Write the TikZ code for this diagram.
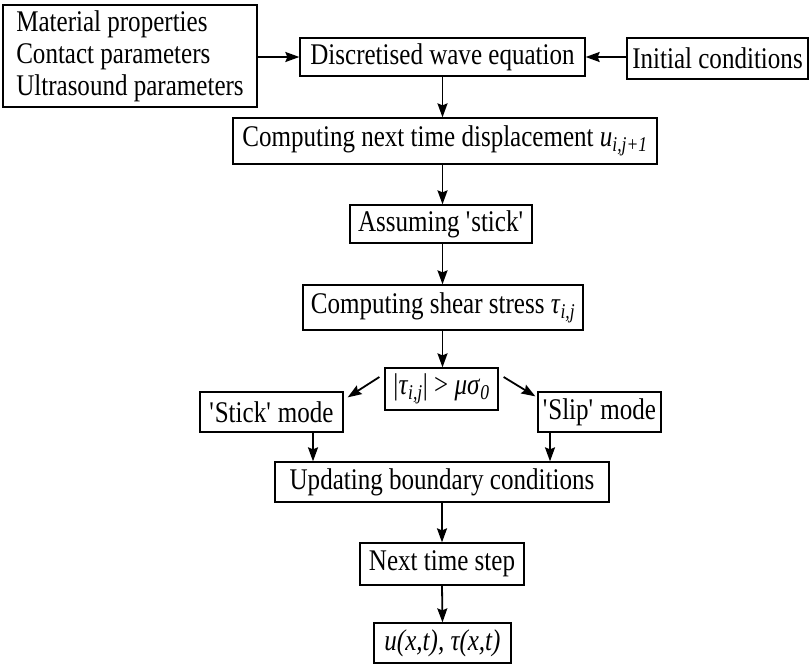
\documentclass[tikz,border=0pt]{standalone}
\usepackage{fontspec}
\setmainfont{Liberation Serif}[FakeStretch=0.835]
\usetikzlibrary{arrows.meta,positioning}
\tikzstyle{stepNode} = [rectangle, draw=black, line width=1.3pt, inner sep=0pt, text centered, font=\fontsize{30}{32}\selectfont]
\tikzstyle{arrow} = [line width=1.8pt,-{Stealth[length=14pt,width=10pt,inset=2pt]},draw=black]
\newcommand{\sub}[1]{\textsubscript{\textit{#1}}}

\begin{document}
\begin{tikzpicture}[x=1pt,y=-1pt]
        \useasboundingbox (0,0) rectangle (810,665);
        \node (params) [stepNode, minimum width=254pt, minimum height=102pt, align=left] at (130,56) {Material properties\\Contact parameters\\Ultrasound parameters};
        \node (wave) [stepNode, minimum width=285pt, minimum height=38pt] at (442.5,57) {Discretised wave equation};
        \node (init) [stepNode, minimum width=181pt, minimum height=41pt] at (717.5,58.5) {Initial conditions};
        \node (disp) [stepNode, minimum width=424pt, minimum height=46pt] at (445,141) {Computing next time displacement \textit{u}\sub{i,j+1}};
        \node (stick) [stepNode, minimum width=182pt, minimum height=38pt] at (441,224) {Assuming \textquotesingle stick\textquotesingle};
        \node (shear) [stepNode, minimum width=280pt, minimum height=45pt] at (443,307.5) {Computing shear stress \textit{τ}\sub{i,j}};
        \node (cond) [stepNode, minimum width=113pt, minimum height=42pt] at (441.5,389) {|\textit{τ}\sub{i,j}| > \textit{μσ}\sub{0}};
        \node (stickmode) [stepNode, minimum width=143pt, minimum height=40pt] at (271.5,412) {\textquotesingle Stick\textquotesingle{} mode};
        \node (slipmode) [stepNode, minimum width=123pt, minimum height=40pt] at (599.5,412) {\textquotesingle Slip\textquotesingle{} mode};
        \node (update) [stepNode, minimum width=334pt, minimum height=40pt] at (442,482) {Updating boundary conditions};
        \node (next) [stepNode, minimum width=164pt, minimum height=42pt] at (442,564) {Next time step};
        \node (out) [stepNode, minimum width=137pt, minimum height=40pt] at (442.5,643) {\textit{u(x,t), τ(x,t)}};

        \draw [arrow] (params.east |- wave.west) -- (wave.west);
        \draw [arrow] (init.west |- wave.east) -- (wave.east);
        \draw [arrow] (wave.south) -- (wave.south |- disp.north);
        \draw [arrow] (wave.south |- disp.south) -- (wave.south |- stick.north);
        \draw [arrow] (wave.south |- stick.south) -- (wave.south |- shear.north);
        \draw [arrow] (wave.south |- shear.south) -- (wave.south |- cond.north);
        \draw [arrow] ([xshift=-5pt,yshift=12pt]cond.west) -- ([xshift=4pt,yshift=-6pt]stickmode.north east);
        \draw [arrow] ([xshift=5pt,yshift=12pt]cond.east) -- ([xshift=-2pt,yshift=-5pt]slipmode.north west);
        \draw [arrow] ([xshift=41.5pt]stickmode.south) -- ([xshift=41.5pt]stickmode.south |- update.north);
        \draw [arrow] ([xshift=-49.5pt]slipmode.south) -- ([xshift=-49.5pt]slipmode.south |- update.north);
        \draw [arrow] (update.south) -- (next.north);
        \draw [arrow] (next.south) -- (out.north);
\end{tikzpicture}
\end{document}
